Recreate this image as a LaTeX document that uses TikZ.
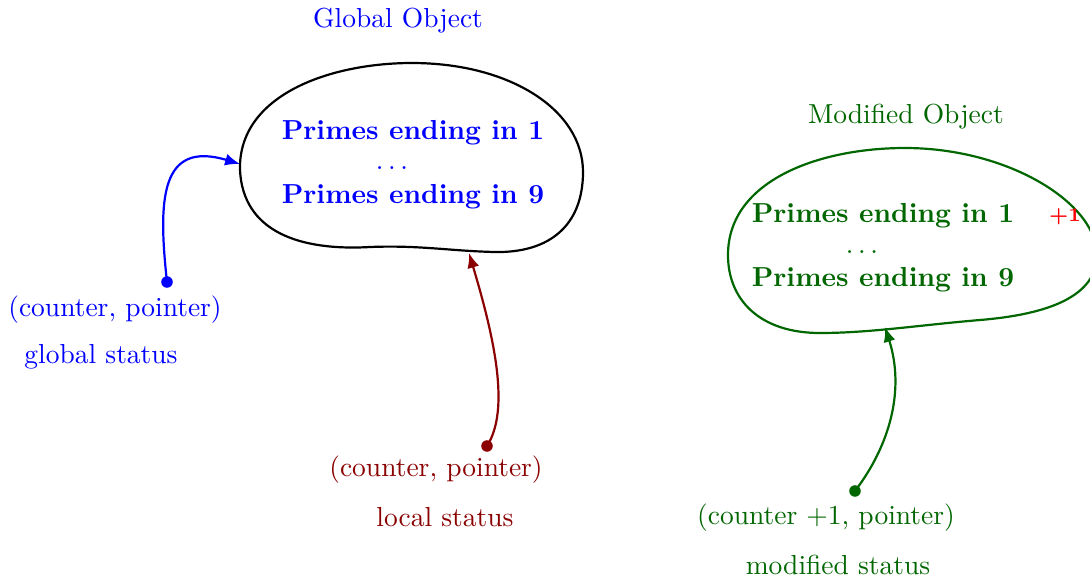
\documentclass[tikz,border=0pt]{standalone}
\usetikzlibrary{arrows.meta}
\definecolor{dred}{RGB}{139,0,0}
\definecolor{dgreen}{RGB}{0,102,0}
\begin{document}
\begin{tikzpicture}[x=0.3636pt,y=-0.3636pt,
  blob/.style={thick},
  conn/.style={thick,-{Latex[length=5.4pt,width=4.4pt]}},
  dot/.style={circle,fill,inner sep=0pt,minimum size=4.2pt},
  lbl/.style={inner sep=0pt},
  ttl/.style={inner sep=0pt,font=\bfseries}]
\clip (0,0) rectangle (1090,578);
% Global object
\node[lbl,text=blue] (gtitle) at (398,21) {Global Object};
\draw[blob] (240,170) .. controls (238,95) and (330,63) .. (412,63)
  .. controls (510,63) and (583,110) .. (583,172)
  .. controls (583,225) and (550,253) .. (495,252)
  .. controls (450,251) and (420,245) .. (370,247)
  .. controls (300,251) and (243,232) .. (240,170) -- cycle;
\node[ttl,text=blue] (g1) at (413,133) {Primes ending in 1};
\node[lbl,text=blue] (gdots) at (392,168) {$\ldots$};
\node[ttl,text=blue] (g9) at (413,197) {Primes ending in 9};
\coordinate (gin) at (240,164);
\coordinate (lin) at (469,253);
% Global status
\node[dot,blue] (gd) at (167,282) {};
\node[lbl,text=blue] (gcp) at (115,310) {(counter, pointer)};
\node[lbl,text=blue] (gst) at (101,357) {global status};
\draw[conn,blue] (gd.center) .. controls (158,200) and (160,140) .. (gin);
% Local status
\node[dot,dred] (ld) at (487,446) {};
\node[lbl,text=dred] (lcp) at (436,470) {(counter, pointer)};
\node[lbl,text=dred] (lst) at (445,517) {local status};
\draw[conn,dred] (ld.center) .. controls (510,410) and (495,340) .. (lin);
% Modified object
\node[lbl,text=dgreen] (mtitle) at (906,117) {Modified Object};
\draw[blob,dgreen] (728,255) .. controls (728,180) and (820,148) .. (905,148)
  .. controls (1010,148) and (1100,205) .. (1097,258)
  .. controls (1094,300) and (1040,315) .. (980,320)
  .. controls (920,325) and (870,333) .. (820,333)
  .. controls (760,333) and (728,300) .. (728,255) -- cycle;
\node[ttl,text=dgreen] (m1) at (883,216) {Primes ending in 1};
\node[lbl,text=dgreen] (mdots) at (862,252) {$\ldots$};
\node[ttl,text=dgreen] (m9) at (883,280) {Primes ending in 9};
\node[lbl,text=red,font=\scriptsize\bfseries] (plus) at (1065,217) {+1};
\coordinate (min) at (885,327);
% Modified status
\node[dot,dgreen] (md) at (855,491) {};
\node[lbl,text=dgreen] (mcp) at (826,518) {(counter +1, pointer)};
\node[lbl,text=dgreen] (mst) at (838,565) {modified status};
\draw[conn,dgreen] (md.center) .. controls (890,445) and (905,390) .. (min);
\end{tikzpicture}
\end{document}
